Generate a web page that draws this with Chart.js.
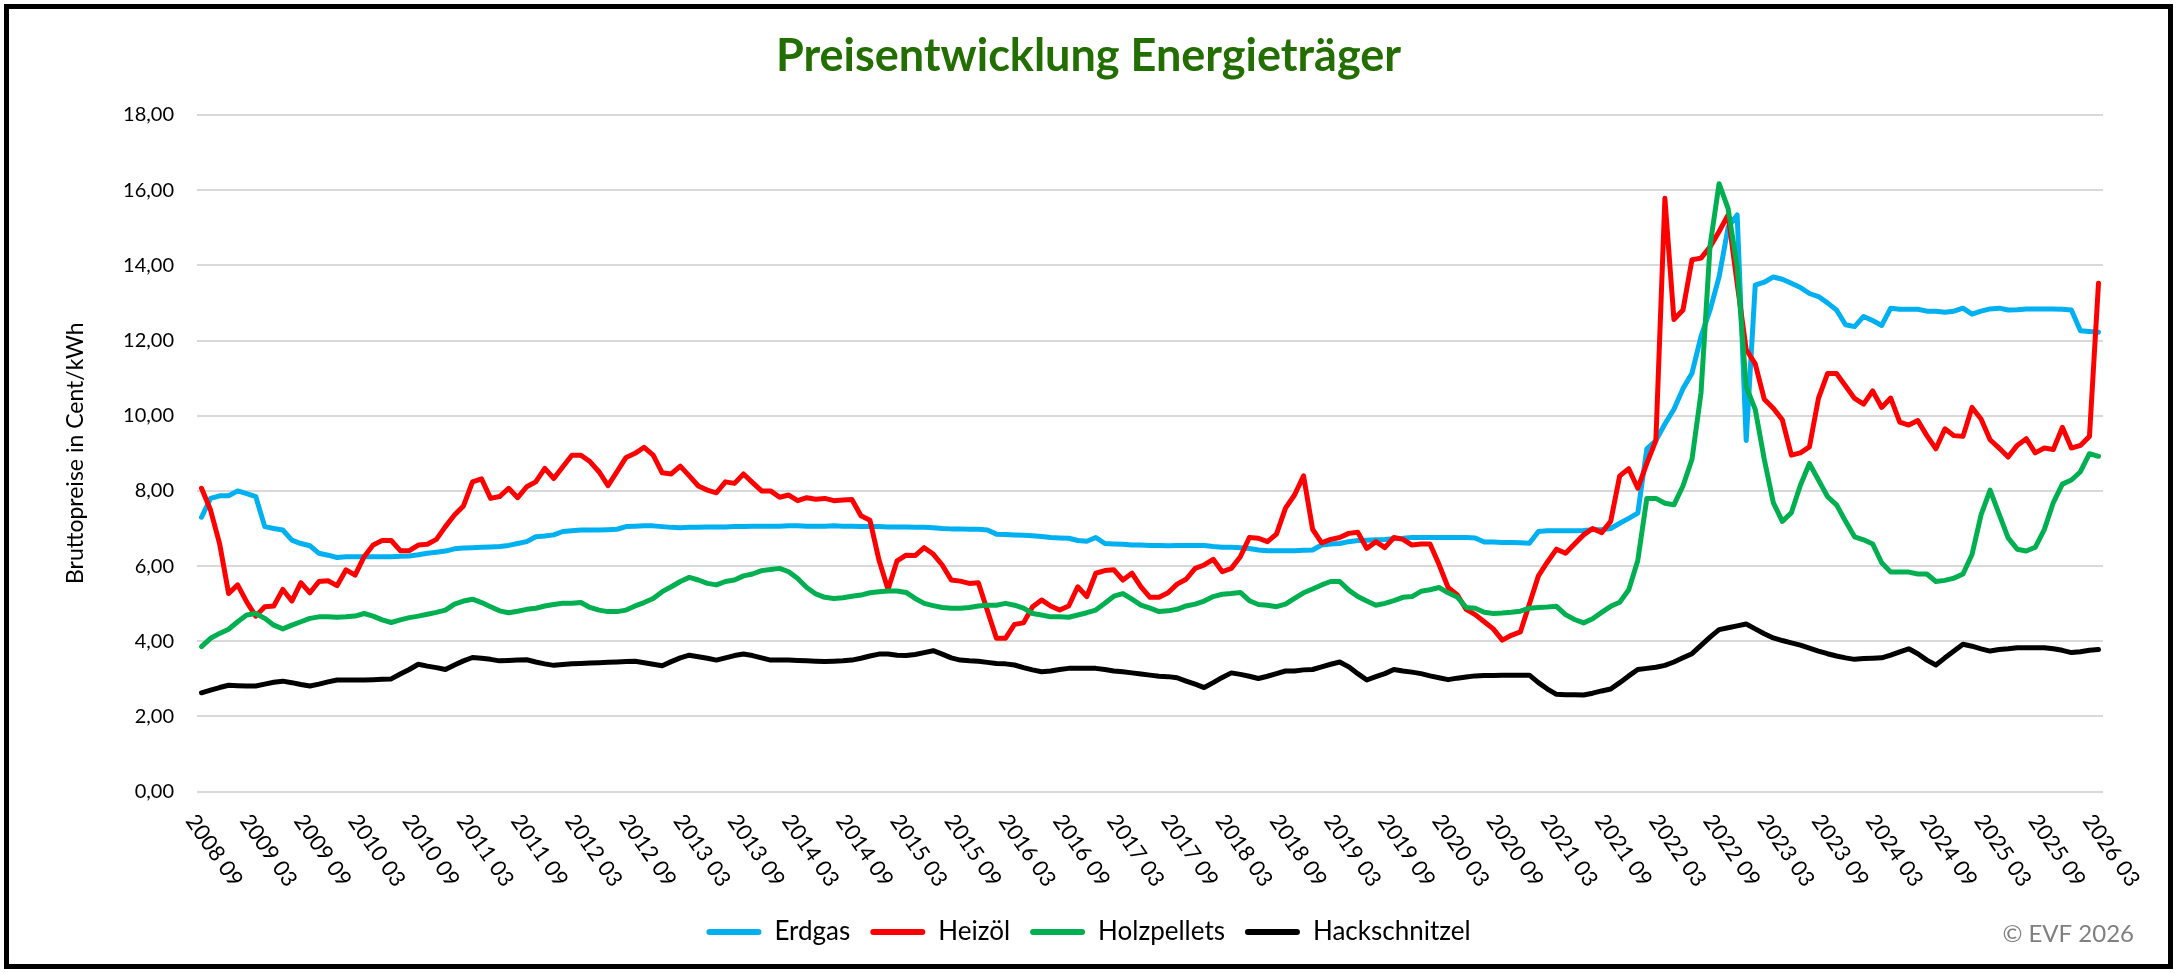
<!DOCTYPE html>
<html lang="de">
<head>
<meta charset="utf-8">
<title>Preisentwicklung Energieträger</title>
<script src="https://cdn.jsdelivr.net/npm/chart.js@4.4.1/dist/chart.umd.min.js"></script>
<style>
  html, body { margin: 0; padding: 0; background: #fff; }
  #wrap { position: relative; width: 2177px; height: 973px; }
</style>
</head>
<body>
<div id="wrap"><canvas id="myChart"></canvas></div>
<script>
// monthly values, 2008 09 .. 2026 03 (Cent/kWh)
var erdgas = [
  7.30, 7.80, 7.87, 7.87, 8.00, 7.93, 7.85, 7.05, 7.00, 6.96, 6.69, 6.60,
  6.54, 6.34, 6.29, 6.23, 6.25, 6.25, 6.25, 6.25, 6.25, 6.25, 6.26, 6.27,
  6.30, 6.34, 6.37, 6.40, 6.46, 6.48, 6.49, 6.50, 6.51, 6.52, 6.55, 6.60,
  6.65, 6.78, 6.80, 6.83, 6.92, 6.94, 6.96, 6.96, 6.96, 6.97, 6.98, 7.05,
  7.06, 7.07, 7.07, 7.05, 7.03, 7.02, 7.03, 7.03, 7.04, 7.04, 7.04, 7.05,
  7.05, 7.06, 7.06, 7.06, 7.06, 7.07, 7.07, 7.06, 7.06, 7.06, 7.07, 7.06,
  7.06, 7.05, 7.05, 7.05, 7.04, 7.04, 7.04, 7.03, 7.03, 7.02, 7.00, 6.99,
  6.99, 6.98, 6.98, 6.96, 6.85, 6.84, 6.83, 6.82, 6.81, 6.79, 6.76, 6.75,
  6.74, 6.68, 6.66, 6.76, 6.60, 6.59, 6.58, 6.56, 6.56, 6.55, 6.55, 6.54,
  6.55, 6.55, 6.55, 6.55, 6.52, 6.50, 6.50, 6.49, 6.47, 6.43, 6.41, 6.41,
  6.41, 6.41, 6.42, 6.43, 6.56, 6.59, 6.60, 6.65, 6.68, 6.69, 6.70, 6.71,
  6.73, 6.74, 6.76, 6.76, 6.76, 6.76, 6.76, 6.76, 6.76, 6.75, 6.64, 6.64,
  6.63, 6.63, 6.62, 6.61, 6.92, 6.94, 6.94, 6.94, 6.94, 6.95, 6.97, 6.97,
  7.00, 7.14, 7.27, 7.41, 9.12, 9.34, 9.78, 10.17, 10.72, 11.13, 12.11, 12.81,
  13.69, 15.01, 15.34, 9.34, 13.47, 13.55, 13.69, 13.63, 13.52, 13.41, 13.25, 13.17,
  13.00, 12.81, 12.42, 12.37, 12.64, 12.53, 12.40, 12.86, 12.83, 12.83, 12.83, 12.78,
  12.78, 12.75, 12.78, 12.86, 12.70, 12.78, 12.84, 12.86, 12.81, 12.82, 12.84, 12.84,
  12.84, 12.84, 12.83, 12.81, 12.26, 12.24, 12.22
];
var heizoel = [
  8.07, 7.49, 6.60, 5.27, 5.50, 5.05, 4.67, 4.92, 4.94, 5.38, 5.07, 5.56,
  5.29, 5.59, 5.61, 5.48, 5.90, 5.76, 6.25, 6.56, 6.68, 6.68, 6.41, 6.41,
  6.56, 6.58, 6.71, 7.05, 7.36, 7.60, 8.24, 8.32, 7.80, 7.85, 8.07, 7.82,
  8.11, 8.24, 8.60, 8.33, 8.64, 8.95, 8.95, 8.78, 8.51, 8.14, 8.51, 8.89,
  9.00, 9.16, 8.95, 8.48, 8.45, 8.66, 8.40, 8.13, 8.02, 7.95, 8.24, 8.20,
  8.45, 8.22, 8.00, 8.00, 7.83, 7.89, 7.74, 7.82, 7.78, 7.80, 7.74, 7.76,
  7.77, 7.34, 7.22, 6.16, 5.38, 6.14, 6.29, 6.28, 6.49, 6.32, 6.03, 5.63,
  5.60, 5.54, 5.56, 4.81, 4.08, 4.08, 4.45, 4.49, 4.92, 5.10, 4.94, 4.83,
  4.94, 5.45, 5.19, 5.81, 5.88, 5.90, 5.63, 5.81, 5.45, 5.17, 5.17, 5.29,
  5.52, 5.65, 5.94, 6.03, 6.18, 5.85, 5.94, 6.25, 6.76, 6.74, 6.65, 6.85,
  7.54, 7.89, 8.40, 6.98, 6.62, 6.71, 6.76, 6.87, 6.90, 6.47, 6.65, 6.49,
  6.76, 6.71, 6.56, 6.59, 6.59, 6.04, 5.43, 5.24, 4.85, 4.71, 4.52, 4.33,
  4.03, 4.16, 4.25, 4.99, 5.74, 6.11, 6.45, 6.34, 6.59, 6.83, 7.00, 6.89,
  7.19, 8.40, 8.59, 8.07, 8.73, 9.34, 15.78, 12.56, 12.81, 14.15, 14.19, 14.49,
  14.90, 15.34, 13.52, 11.76, 11.38, 10.44, 10.20, 9.89, 8.95, 9.01, 9.17, 10.46,
  11.12, 11.12, 10.79, 10.46, 10.31, 10.66, 10.22, 10.47, 9.83, 9.75, 9.87, 9.47,
  9.12, 9.65, 9.47, 9.45, 10.22, 9.91, 9.36, 9.14, 8.90, 9.21, 9.39, 9.01,
  9.14, 9.10, 9.69, 9.14, 9.21, 9.45, 13.52
];
var holzpellets = [
  3.86, 4.08, 4.21, 4.32, 4.52, 4.70, 4.74, 4.61, 4.43, 4.33, 4.43, 4.52,
  4.61, 4.65, 4.65, 4.64, 4.65, 4.67, 4.74, 4.67, 4.57, 4.50, 4.57, 4.63,
  4.67, 4.72, 4.77, 4.83, 4.99, 5.07, 5.12, 5.03, 4.92, 4.81, 4.76, 4.80,
  4.85, 4.88, 4.94, 4.98, 5.01, 5.01, 5.03, 4.90, 4.83, 4.79, 4.79, 4.83,
  4.94, 5.03, 5.14, 5.32, 5.45, 5.59, 5.70, 5.63, 5.54, 5.50, 5.59, 5.63,
  5.74, 5.79, 5.88, 5.91, 5.94, 5.85, 5.67, 5.43, 5.26, 5.17, 5.14, 5.16,
  5.20, 5.23, 5.29, 5.32, 5.34, 5.34, 5.30, 5.14, 5.01, 4.95, 4.90, 4.88,
  4.88, 4.90, 4.94, 4.96, 4.96, 5.01, 4.96, 4.88, 4.74, 4.70, 4.65, 4.65,
  4.64, 4.70, 4.76, 4.83, 5.01, 5.20, 5.27, 5.12, 4.96, 4.88, 4.79, 4.81,
  4.85, 4.94, 4.99, 5.07, 5.19, 5.25, 5.27, 5.30, 5.08, 4.98, 4.96, 4.92,
  4.99, 5.14, 5.29, 5.39, 5.50, 5.59, 5.59, 5.36, 5.19, 5.07, 4.96, 5.01,
  5.08, 5.17, 5.19, 5.33, 5.37, 5.43, 5.29, 5.18, 4.90, 4.88, 4.77, 4.74,
  4.75, 4.77, 4.80, 4.88, 4.90, 4.91, 4.93, 4.71, 4.58, 4.49, 4.60, 4.77,
  4.93, 5.04, 5.37, 6.15, 7.80, 7.80, 7.67, 7.63, 8.13, 8.84, 10.61, 14.52,
  16.17, 15.51, 13.96, 10.77, 10.17, 8.84, 7.69, 7.19, 7.42, 8.15, 8.73, 8.29,
  7.85, 7.63, 7.19, 6.78, 6.70, 6.59, 6.09, 5.84, 5.84, 5.84, 5.79, 5.79,
  5.59, 5.62, 5.68, 5.79, 6.31, 7.36, 8.02, 7.38, 6.75, 6.45, 6.40, 6.50,
  6.97, 7.69, 8.18, 8.29, 8.51, 8.99, 8.92
];
var hackschnitzel = [
  2.63, 2.70, 2.77, 2.83, 2.82, 2.81, 2.81, 2.86, 2.91, 2.94, 2.90, 2.85,
  2.81, 2.86, 2.92, 2.97, 2.97, 2.97, 2.97, 2.98, 2.99, 3.00, 3.13, 3.25,
  3.39, 3.34, 3.30, 3.25, 3.37, 3.48, 3.57, 3.55, 3.52, 3.48, 3.49, 3.50,
  3.51, 3.45, 3.40, 3.36, 3.38, 3.40, 3.41, 3.42, 3.43, 3.44, 3.45, 3.46,
  3.47, 3.43, 3.39, 3.35, 3.46, 3.56, 3.63, 3.59, 3.55, 3.50, 3.56, 3.62,
  3.66, 3.62, 3.56, 3.50, 3.50, 3.50, 3.49, 3.48, 3.47, 3.46, 3.47, 3.48,
  3.50, 3.55, 3.61, 3.66, 3.66, 3.63, 3.62, 3.65, 3.70, 3.75, 3.66, 3.56,
  3.50, 3.48, 3.47, 3.44, 3.41, 3.40, 3.37, 3.30, 3.24, 3.19, 3.21, 3.25,
  3.28, 3.28, 3.28, 3.28, 3.25, 3.21, 3.19, 3.16, 3.13, 3.10, 3.07, 3.06,
  3.03, 2.94, 2.86, 2.77, 2.90, 3.04, 3.16, 3.12, 3.07, 3.01, 3.07, 3.14,
  3.21, 3.21, 3.24, 3.25, 3.32, 3.39, 3.45, 3.32, 3.14, 2.97, 3.06, 3.14,
  3.25, 3.21, 3.18, 3.14, 3.08, 3.03, 2.98, 3.02, 3.05, 3.08, 3.09, 3.09,
  3.10, 3.10, 3.10, 3.10, 2.90, 2.73, 2.59, 2.58, 2.58, 2.57, 2.62, 2.68,
  2.73, 2.90, 3.08, 3.25, 3.28, 3.31, 3.36, 3.45, 3.56, 3.67, 3.89, 4.11,
  4.31, 4.36, 4.41, 4.46, 4.33, 4.20, 4.09, 4.02, 3.96, 3.90, 3.82, 3.74,
  3.67, 3.61, 3.56, 3.52, 3.54, 3.55, 3.56, 3.63, 3.72, 3.80, 3.67, 3.50,
  3.37, 3.56, 3.74, 3.92, 3.87, 3.80, 3.74, 3.78, 3.80, 3.83, 3.83, 3.83,
  3.83, 3.80, 3.76, 3.70, 3.72, 3.76, 3.78
];

var tickLabels = [
  "2008 09", "2009 03", "2009 09", "2010 03", "2010 09", "2011 03", "2011 09",
  "2012 03", "2012 09", "2013 03", "2013 09", "2014 03", "2014 09", "2015 03",
  "2015 09", "2016 03", "2016 09", "2017 03", "2017 09", "2018 03", "2018 09",
  "2019 03", "2019 09", "2020 03", "2020 09", "2021 03", "2021 09", "2022 03",
  "2022 09", "2023 03", "2023 09", "2024 03", "2024 09", "2025 03", "2025 09",
  "2026 03"
];

// one category per month
var categories = [];
for (var y = 2008, m = 9; y < 2026 || (y === 2026 && m <= 3); m++) {
  if (m > 12) { m = 1; y++; if (y === 2026 && m > 3) break; }
  categories.push(y + " " + (m < 10 ? "0" + m : m));
}

var seriesNames = ["Erdgas", "Heizöl", "Holzpellets", "Hackschnitzel"];
var seriesColors = ["#00B0F0", "#FF0000", "#00B050", "#000000"];
var seriesValues = [erdgas, heizoel, holzpellets, hackschnitzel];

var FONT = "Lato";

// rotated month labels, frame and copyright
var decorations = {
  id: "decorations",
  afterDraw: function (chart) {
    var ctx = chart.ctx;
    var xs = chart.scales.x;
    ctx.save();
    ctx.font = "22px " + FONT;
    ctx.fillStyle = "#000";
    ctx.textAlign = "left";
    ctx.textBaseline = "top";
    tickLabels.forEach(function (lbl) {
      var px = xs.getPixelForValue(categories.indexOf(lbl));
      ctx.save();
      ctx.translate(px - 2, chart.chartArea.bottom + 19);
      ctx.rotate(55 * Math.PI / 180);
      ctx.fillText(lbl, 0, 0);
      ctx.restore();
    });

    ctx.font = "24px " + FONT;
    ctx.fillStyle = "#7F7F7F";
    ctx.textAlign = "right";
    ctx.textBaseline = "middle";
    ctx.fillText("\u00A9 EVF 2026", 2134, 934);

    ctx.strokeStyle = "#000";
    ctx.lineWidth = 5;
    ctx.strokeRect(6.5, 6.5, 2164, 960);
    ctx.restore();
  }
};

var ctx = document.getElementById("myChart").getContext("2d");

var myChart = new Chart(ctx, {
  type: "line",
  data: {
    labels: categories,
    datasets: seriesNames.map(function (name, i) {
      return {
        label: name,
        data: seriesValues[i],
        borderColor: seriesColors[i],
        backgroundColor: seriesColors[i],
        borderWidth: 5,
        pointRadius: 0,
        tension: 0,
        borderJoinStyle: "round",
        borderCapStyle: "round",
        order: seriesNames.length - i // later series on top, like the original
      };
    })
  },
  options: {
    responsive: true,
    maintainAspectRatio: false,
    animation: false,
    devicePixelRatio: 1,
    layout: { padding: { top: 0, left: 0, right: 0, bottom: 18 } },
    plugins: {
      title: {
        display: true,
        text: "Preisentwicklung Energieträger",
        color: "#226E00",
        font: { family: FONT, size: 45, weight: "bold" },
        padding: { top: 29.5, bottom: 31.4 }
      },
      legend: {
        position: "bottom",
        labels: {
          color: "#000",
          font: { family: FONT, size: 26 },
          boxWidth: 55,
          boxHeight: 6,
          padding: 20,
          useBorderRadius: true,
          borderRadius: 3,
          sort: function (a, b) { return a.datasetIndex - b.datasetIndex; },
          generateLabels: function (chart) {
            var items = Chart.defaults.plugins.legend.labels.generateLabels(chart);
            items.forEach(function (it) { it.lineWidth = 0; });
            return items;
          }
        }
      },
      tooltip: { enabled: false }
    },
    scales: {
      x: {
        type: "category",
        offset: true,
        grid: { display: false },
        border: { display: false },
        ticks: { display: false },
        afterFit: function (scale) { scale.height = 107.3; }
      },
      y: {
        min: 0,
        max: 18,
        ticks: {
          stepSize: 2,
          padding: 23,
          color: "#000",
          font: { family: FONT, size: 20 },
          callback: function (v) { return v.toFixed(2).replace(".", ","); }
        },
        grid: { color: "#D9D9D9", lineWidth: 2, drawTicks: false },
        border: { display: false },
        title: {
          display: true,
          text: "Bruttopreise in Cent/kWh",
          color: "#000",
          font: { family: FONT, size: 23 },
          padding: { top: 62, bottom: 0 }
        },
        afterFit: function (scale) { scale.width = 197; }
      },
      yRight: {
        position: "right",
        grid: { display: false },
        border: { display: false },
        ticks: { display: false },
        afterFit: function (scale) { scale.width = 74; }
      }
    }
  },
  plugins: [decorations]
});
</script>
</body>
</html>
